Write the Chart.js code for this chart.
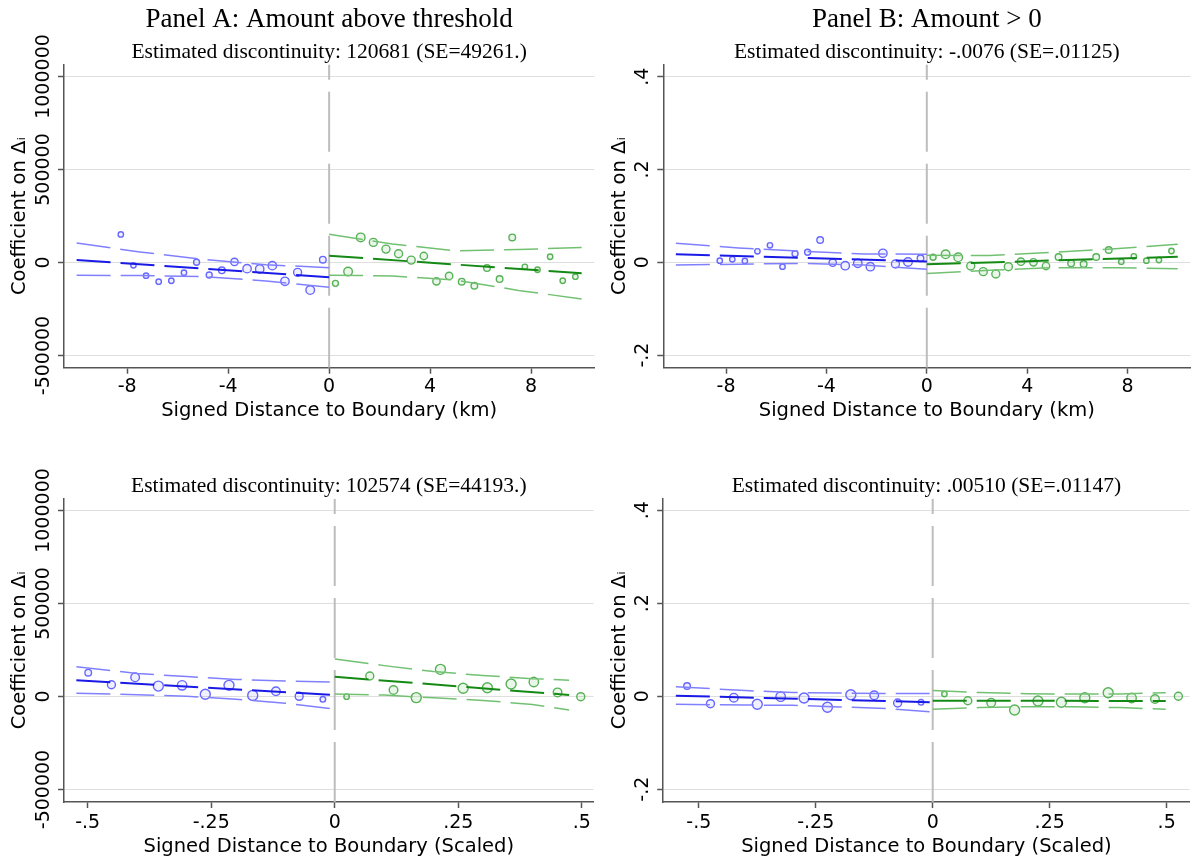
<!DOCTYPE html>
<html><head><meta charset="utf-8">
<script src="https://cdn.jsdelivr.net/npm/chart.js@4.4.1/dist/chart.umd.min.js"></script>
<style>
html,body{margin:0;padding:0;background:#fff;}
#wrap{position:relative;width:1196px;height:857px;overflow:hidden;background:#fff;}
canvas{position:absolute;}
</style></head><body>
<div id="wrap">
<canvas id="cA" width="600" height="430" style="left:0;top:0"></canvas>
<canvas id="cB" width="596" height="430" style="left:600px;top:0"></canvas>
<canvas id="cC" width="600" height="427" style="left:0;top:430px"></canvas>
<canvas id="cD" width="596" height="427" style="left:600px;top:430px"></canvas>
</div>
<script>
// ---------- tick labels ----------
const xTicksKm = [-8, -4, 0, 4, 8];
const xTickLabelsKm = ['-8', '-4', '0', '4', '8'];
const xTicksScaled = [-0.5, -0.25, 0, 0.25, 0.5];
const xTickLabelsScaled = ['-.5', '-.25', '0', '.25', '.5'];
const yTicksAmount = [-500000, 0, 500000, 1000000];
const yTickLabelsAmount = ['-500000', '0', '500000', '1000000'];
const yTicksShare = [-0.2, 0, 0.2, 0.4];
const yTickLabelsShare = ['-.2', '0', '.2', '.4'];

// ---------- titles ----------
const panelTitles = ['Panel A: Amount above threshold', 'Panel B: Amount > 0'];
const discontinuityTexts = [
  'Estimated discontinuity: 120681 (SE=49261.)',
  'Estimated discontinuity: -.0076 (SE=.01125)',
  'Estimated discontinuity: 102574 (SE=44193.)',
  'Estimated discontinuity: .00510 (SE=.01147)'
];
const xTitleKm = 'Signed Distance to Boundary (km)';
const xTitleScaled = 'Signed Distance to Boundary (Scaled)';
const yTitle = 'Coefficient on \u0394\u1D62';

// ---------- binned points (km) ----------
const kmBinsLeft = [-8.25, -7.75, -7.25, -6.75, -6.25, -5.75, -5.25, -4.75, -4.25, -3.75, -3.25, -2.75, -2.25, -1.75, -1.25, -0.75, -0.25];
const kmBinsRight = [0.25, 0.75, 1.25, 1.75, 2.25, 2.75, 3.25, 3.75, 4.25, 4.75, 5.25, 5.75, 6.25, 6.75, 7.25, 7.75, 8.25, 8.75, 9.25, 9.75];
const kmSizeLeft = [2.7, 2.7, 2.7, 2.7, 2.7, 2.7, 3, 3, 3.3, 3.7, 4.2, 4.2, 4.2, 4.2, 4, 4.3, 3.3];
const kmSizeRight = [3, 4.3, 4.3, 4, 4, 4, 4, 3.7, 3.7, 3.7, 3.3, 3.3, 3.3, 3.3, 3.3, 2.7, 2.7, 2.7, 2.7, 2.7];

const amountKmLeft = [151000, -15000, -71000, -103000, -98000, -55000, 1000, -67000, -42000, 3000, -33000, -35000, -17000, -101000, -53000, -148000, 15000];
const amountKmRight = [-112000, -49000, 135000, 108000, 72000, 47000, 13000, 35000, -101000, -72000, -103000, -125000, -30000, -89000, 135000, -23000, -39000, 31000, -98000, -76000];
const shareKmLeft = [0.0034, 0.0064, 0.0028, 0.0237, 0.0366, -0.0095, 0.0185, 0.0215, 0.048, -0.0009, -0.0073, -0.0022, -0.0095, 0.0194, -0.0037, 0.0006, 0.0086];
const shareKmRight = [0.0108, 0.0172, 0.0108, -0.008, -0.0202, -0.0252, -0.0095, 0.0013, 0, -0.008, 0.0114, -0.0022, -0.0037, 0.0114, 0.0265, 0.0013, 0.0129, 0.0034, 0.0049, 0.0243];

// ---------- binned points (scaled) ----------
const amountScaledBinsLeft = [-0.499, -0.452, -0.404, -0.357, -0.309, -0.262, -0.214, -0.166, -0.119, -0.072, -0.024];
const amountScaledBinsRight = [0.024, 0.071, 0.119, 0.165, 0.214, 0.26, 0.309, 0.357, 0.403, 0.451, 0.498];
const shareScaledBinsLeft = [-0.525, -0.475, -0.425, -0.375, -0.325, -0.275, -0.225, -0.175, -0.125, -0.075, -0.025];
const shareScaledBinsRight = [0.025, 0.075, 0.125, 0.175, 0.225, 0.275, 0.325, 0.375, 0.425, 0.475, 0.525];
const scaledSizeLeft = [3.3, 4, 4.3, 5, 4.7, 5, 5, 5, 4.3, 4, 2.8];
const scaledSizeRight = [2.7, 4, 4.3, 5, 5, 5, 5, 5, 4.7, 4.3, 4];

const amountScaledLeft = [128000, 63000, 103000, 56000, 60000, 12000, 60000, 6000, 28000, 1000, -15000];
const amountScaledRight = [-1000, 110000, 35000, -6000, 146000, 44000, 47000, 67000, 78000, 22000, -1000];
const shareScaledLeft = [0.0219, -0.0161, -0.0032, -0.0174, -0.001, -0.0039, -0.0239, 0.0032, 0.0019, -0.0146, -0.0131];
const shareScaledRight = [0.0047, -0.0097, -0.014, -0.0297, -0.0103, -0.0131, -0.0032, 0.0075, -0.0039, -0.006, 0];

// ---------- fitted lines and confidence bands ----------
const fitKmLeftX = [-10, 0];
const fitKmRightX = [0, 10];
const ciKmLeftX = [-10, -7.5, -5, -2.5, 0];
const ciKmRightX = [0, 2.5, 5, 7.5, 10];

const amountKmFitLeft = [13400, -79000];
const amountKmUpperLeft = [104600, 57000, 17000, -12000, -28000];
const amountKmLowerLeft = [-68700, -70000, -76000, -99000, -133000];
const amountKmFitRight = [36500, -58000];
const amountKmUpperRight = [151300, 100000, 63000, 70000, 80000];
const amountKmLowerRight = [-68700, -72000, -95000, -150000, -196000];

const shareKmFitLeft = [0.0172, 0.0017];
const shareKmUpperLeft = [0.041, 0.031, 0.024, 0.018, 0.0175];
const shareKmLowerLeft = [-0.006, -0.004, -0.0025, -0.006, -0.015];
const shareKmFitRight = [-0.0043, 0.012];
const shareKmUpperRight = [0.015, 0.0148, 0.0215, 0.029, 0.0387];
const shareKmLowerRight = [-0.024, -0.0172, -0.0116, -0.0116, -0.0138];

const amountScaledFitLeftX = [-0.523, 0];
const amountScaledFitRightX = [0, 0.4745];
const amountScaledCiLeftX = [-0.523, -0.4, -0.3, -0.2, -0.1, 0];
const amountScaledCiRightX = [0, 0.1, 0.2, 0.3, 0.4, 0.4745];
const amountScaledFitLeft = [87000, 8000];
const amountScaledUpperLeft = [160000, 124000, 107000, 92000, 83000, 77000];
const amountScaledLowerLeft = [17000, 10000, 1000, -15000, -36000, -67000];
const amountScaledFitRight = [106000, 8000];
const amountScaledUpperRight = [201000, 166000, 134000, 113000, 96000, 88000];
const amountScaledLowerRight = [14000, 7500, -7000, -21000, -43000, -72000];

const shareScaledFitLeftX = [-0.549, 0];
const shareScaledFitRightX = [0, 0.498];
const shareScaledCiLeftX = [-0.549, -0.4, -0.3, -0.2, -0.1, 0];
const shareScaledCiRightX = [0, 0.1, 0.2, 0.3, 0.4, 0.498];
const shareScaledFitLeft = [0.001, -0.0131];
const shareScaledUpperLeft = [0.0204, 0.012, 0.008, 0.0069, 0.0058, 0.006];
const shareScaledLowerLeft = [-0.0174, -0.019, -0.0195, -0.023, -0.0265, -0.034];
const shareScaledFitRight = [-0.0097, -0.0103];
const shareScaledUpperRight = [0.012, 0.0078, 0.0054, 0.0047, 0.005, 0.0075];
const shareScaledLowerRight = [-0.028, -0.0245, -0.0226, -0.0226, -0.0245, -0.028];

// ---------- axis ranges ----------
const kmRange = [-10.5, 10.5];
const amountScaledRange = [-0.548, 0.524];
const shareScaledRange = [-0.576, 0.549];
const amountRangeTop = [-565600, 1064500];
const shareRangeTop = [-0.2272, 0.4263];
const amountRangeBottom = [-567200, 1063400];
const shareRangeBottom = [-0.2275, 0.4247];

// ---------- styles ----------
const SERIF = "'Liberation Serif', 'Times New Roman', serif";
const SANS = "'DejaVu Sans', 'Verdana', sans-serif";
const BLUE_MK = '#6767ff', BLUE_MK_FILL = 'rgba(103,103,255,0.10)';
const BLUE_CI = '#8080ff', BLUE_FIT = '#1a1ae6';
const GREEN_MK = '#57b257', GREEN_MK_FILL = 'rgba(87,178,87,0.12)';
const GREEN_CI = '#72c172', GREEN_FIT = '#148a14';
const DASH = [34, 10];

const pts = (xs, ys) => xs.map((x, i) => ({x: x, y: ys[i]}));

const rotatedYLabels = {
  id: 'rotatedYLabels',
  afterDraw(chart, args, opts) {
    const s = chart.scales.y, ctx = chart.ctx;
    ctx.save();
    ctx.font = opts.size + 'px ' + SANS;
    ctx.fillStyle = '#000';
    ctx.textAlign = 'center';
    ctx.textBaseline = 'middle';
    s.ticks.forEach((t, i) => {
      const y = s.getPixelForValue(t.value);
      ctx.save();
      ctx.translate(chart.chartArea.left - opts.offset, y);
      ctx.rotate(-Math.PI / 2);
      ctx.fillText(opts.labels[i], 0, 0);
      ctx.restore();
    });
    ctx.restore();
  }
};

function lineDs(xs, ys, color, width) {
  return {data: pts(xs, ys), showLine: true, borderColor: color, borderWidth: width,
    borderDash: DASH, pointRadius: 0, fill: false, tension: 0};
}
function markDs(xs, ys, sizes, color, fillc) {
  return {data: pts(xs, ys), showLine: false, pointRadius: sizes, pointBorderWidth: 1.4,
    pointBorderColor: color, pointBackgroundColor: fillc, borderColor: color, backgroundColor: fillc};
}

function makePanel(id, p) {
  const datasets = [
    lineDs(p.fitLX, p.fitL, BLUE_FIT, 2),
    lineDs(p.fitRX, p.fitR, GREEN_FIT, 2),
    lineDs(p.ciLX, p.upL, BLUE_CI, 1.5),
    lineDs(p.ciLX, p.loL, BLUE_CI, 1.5),
    lineDs(p.ciRX, p.upR, GREEN_CI, 1.5),
    lineDs(p.ciRX, p.loR, GREEN_CI, 1.5),
    markDs(p.binsL, p.valsL, p.sizeL, BLUE_MK, BLUE_MK_FILL),
    markDs(p.binsR, p.valsR, p.sizeR, GREEN_MK, GREEN_MK_FILL),
    {data: [{x: 0, y: p.yRange[0]}, {x: 0, y: p.yRange[1]}], showLine: true, borderColor: '#bdbdbd',
      borderWidth: 2, borderDash: [60, 12], pointRadius: 0, fill: false}
  ];
  const plugins = {
    legend: {display: false}, tooltip: {enabled: false},
    rotatedYLabels: {labels: p.yLabels, offset: 20.2, size: 19}
  };
  if (p.top) {
    plugins.title = {display: true, text: p.title, color: '#000', fullSize: false,
      font: {family: SERIF, size: 27, weight: 'normal', lineHeight: 1}, padding: {top: 6.7, bottom: 0}};
    plugins.subtitle = {display: true, text: p.sub, color: '#000', fullSize: false,
      font: {family: SERIF, size: 21.5, weight: 'normal', lineHeight: 1}, padding: {top: 7.55, bottom: 1.75}};
  } else {
    plugins.title = {display: true, text: p.sub, color: '#000', fullSize: false,
      font: {family: SERIF, size: 21.5, weight: 'normal', lineHeight: 1}, padding: {top: 45.45, bottom: 1.75}};
  }
  new Chart(document.getElementById(id), {
    type: 'scatter',
    data: {datasets: datasets},
    plugins: [rotatedYLabels],
    options: {
      responsive: false, animation: false, events: [],
      layout: {padding: {left: 0, right: p.padRight, top: 0, bottom: 0}},
      plugins: plugins,
      scales: {
        x: {
          type: 'linear', min: p.xRange[0], max: p.xRange[1],
          afterBuildTicks: s => { s.ticks = p.xTicks.map(v => ({value: v})); },
          afterFit: s => { s.height = p.xAxisH; s.paddingLeft = 0; s.paddingRight = 0; },
          ticks: {callback: (v, i) => p.xLabels[i], color: '#000', padding: p.xTickPad,
            font: {family: SANS, size: 19}, maxRotation: 0, minRotation: 0},
          grid: {drawOnChartArea: false, drawTicks: true, tickLength: 6, tickColor: '#555', tickWidth: 1.5},
          border: {display: true, color: '#555', width: 1.5},
          title: {display: true, text: p.xTitle, color: '#000', font: {family: SANS, size: 19.5, lineHeight: 1},
            padding: {top: 0, bottom: p.xTitlePad}}
        },
        y: {
          type: 'linear', min: p.yRange[0], max: p.yRange[1],
          afterBuildTicks: s => { s.ticks = p.yTicks.map(v => ({value: v})); },
          afterFit: s => { s.width = p.yAxisW; s.paddingTop = 0; s.paddingBottom = 0; },
          ticks: {display: false, callback: (v, i) => p.yLabels[i]},
          grid: {drawOnChartArea: true, color: '#dedede', lineWidth: 1, drawTicks: true, tickLength: 6,
            tickColor: '#555', tickWidth: 1.5},
          border: {display: true, color: '#555', width: 1.5},
          title: {display: true, text: yTitle, color: '#000', font: {family: SANS, size: 19.5, lineHeight: 1},
            padding: {top: 9.75, bottom: 0}}
        }
      }
    }
  });
}

makePanel('cA', {
  top: true, title: panelTitles[0], sub: discontinuityTexts[0],
  xRange: kmRange, yRange: amountRangeTop, xTicks: xTicksKm, xLabels: xTickLabelsKm,
  yTicks: yTicksAmount, yLabels: yTickLabelsAmount, xTitle: xTitleKm,
  yAxisW: 64, xAxisH: 62.3, padRight: 2.6, xTickPad: 2.3, xTitlePad: 9.75,
  binsL: kmBinsLeft, valsL: amountKmLeft, sizeL: kmSizeLeft,
  binsR: kmBinsRight, valsR: amountKmRight, sizeR: kmSizeRight,
  fitLX: fitKmLeftX, fitL: amountKmFitLeft, ciLX: ciKmLeftX, upL: amountKmUpperLeft, loL: amountKmLowerLeft,
  fitRX: fitKmRightX, fitR: amountKmFitRight, ciRX: ciKmRightX, upR: amountKmUpperRight, loR: amountKmLowerRight
});
makePanel('cB', {
  top: true, title: panelTitles[1], sub: discontinuityTexts[1],
  xRange: kmRange, yRange: shareRangeTop, xTicks: xTicksKm, xLabels: xTickLabelsKm,
  yTicks: yTicksShare, yLabels: yTickLabelsShare, xTitle: xTitleKm,
  yAxisW: 63.3, xAxisH: 62.3, padRight: 1, xTickPad: 2.3, xTitlePad: 9.75,
  binsL: kmBinsLeft, valsL: shareKmLeft, sizeL: kmSizeLeft,
  binsR: kmBinsRight, valsR: shareKmRight, sizeR: kmSizeRight,
  fitLX: fitKmLeftX, fitL: shareKmFitLeft, ciLX: ciKmLeftX, upL: shareKmUpperLeft, loL: shareKmLowerLeft,
  fitRX: fitKmRightX, fitR: shareKmFitRight, ciRX: ciKmRightX, upR: shareKmUpperRight, loR: shareKmLowerRight
});
makePanel('cC', {
  top: false, sub: discontinuityTexts[2],
  xRange: amountScaledRange, yRange: amountRangeBottom, xTicks: xTicksScaled, xLabels: xTickLabelsScaled,
  yTicks: yTicksAmount, yLabels: yTickLabelsAmount, xTitle: xTitleScaled,
  yAxisW: 64, xAxisH: 55, padRight: 2, xTickPad: 3.2, xTitlePad: 0,
  binsL: amountScaledBinsLeft, valsL: amountScaledLeft, sizeL: scaledSizeLeft,
  binsR: amountScaledBinsRight, valsR: amountScaledRight, sizeR: scaledSizeRight,
  fitLX: amountScaledFitLeftX, fitL: amountScaledFitLeft, ciLX: amountScaledCiLeftX, upL: amountScaledUpperLeft, loL: amountScaledLowerLeft,
  fitRX: amountScaledFitRightX, fitR: amountScaledFitRight, ciRX: amountScaledCiRightX, upR: amountScaledUpperRight, loR: amountScaledLowerRight
});
makePanel('cD', {
  top: false, sub: discontinuityTexts[3],
  xRange: shareScaledRange, yRange: shareRangeBottom, xTicks: xTicksScaled, xLabels: xTickLabelsScaled,
  yTicks: yTicksShare, yLabels: yTickLabelsShare, xTitle: xTitleScaled,
  yAxisW: 63.2, xAxisH: 55, padRight: 1, xTickPad: 3.2, xTitlePad: 0,
  binsL: shareScaledBinsLeft, valsL: shareScaledLeft, sizeL: scaledSizeLeft,
  binsR: shareScaledBinsRight, valsR: shareScaledRight, sizeR: scaledSizeRight,
  fitLX: shareScaledFitLeftX, fitL: shareScaledFitLeft, ciLX: shareScaledCiLeftX, upL: shareScaledUpperLeft, loL: shareScaledLowerLeft,
  fitRX: shareScaledFitRightX, fitR: shareScaledFitRight, ciRX: shareScaledCiRightX, upR: shareScaledUpperRight, loR: shareScaledLowerRight
});
</script>
</body></html>
